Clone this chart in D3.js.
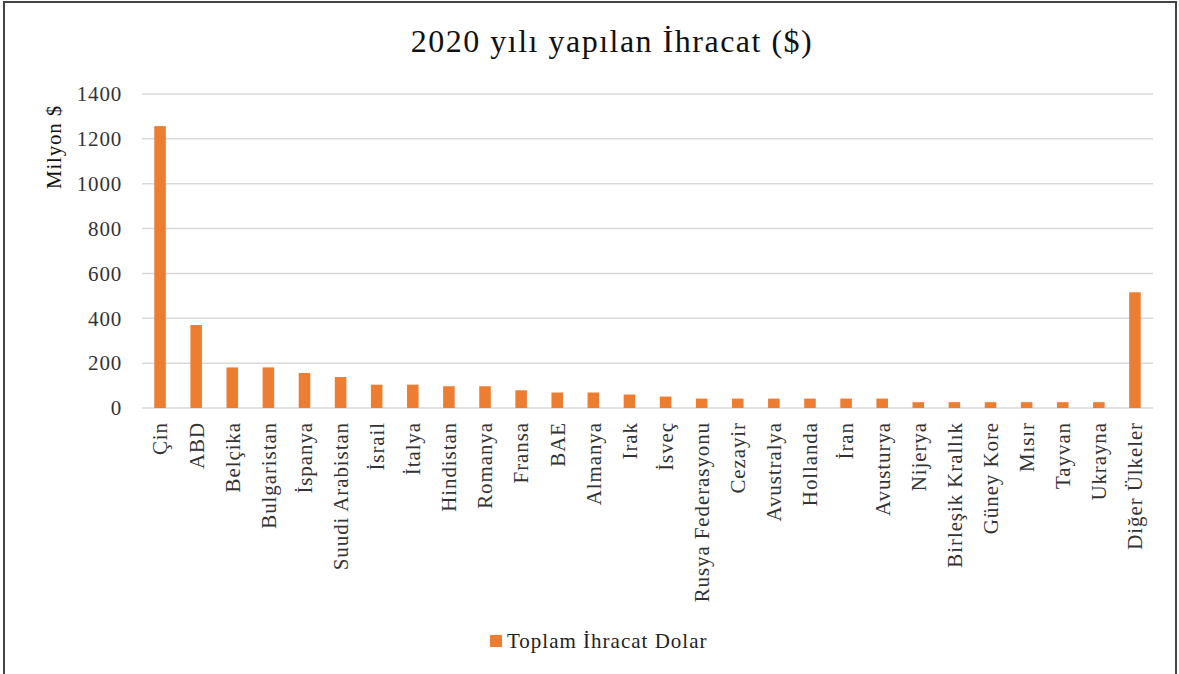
<!DOCTYPE html>
<html>
<head>
<meta charset="utf-8">
<script src="https://cdn.jsdelivr.net/npm/d3@7"></script>
<style>
  html, body { margin: 0; padding: 0; background: #fff; }
</style>
</head>
<body>
<div id="chart"></div>
<script>
// Countries and export values (million $)
const countries = [
    "Çin", "ABD", "Belçika", "Bulgaristan", "İspanya", "Suudi Arabistan", "İsrail",
    "İtalya", "Hindistan", "Romanya", "Fransa", "BAE", "Almanya", "Irak", "İsveç",
    "Rusya Federasyonu", "Cezayir", "Avustralya", "Hollanda", "İran", "Avusturya",
    "Nijerya", "Birleşik Krallık", "Güney Kore", "Mısır", "Tayvan", "Ukrayna", "Diğer Ülkeler"
];
const exports2020 = [
    1257, 370, 181, 181, 156, 138, 104,
    104, 97, 97, 79, 69, 69, 60, 51,
    42, 42, 42, 42, 42, 42,
    26, 26, 26, 26, 26, 26, 516
];
const yTicks = [0, 200, 400, 600, 800, 1000, 1200, 1400];

const title = "2020 yılı yapılan İhracat ($)";
const yTitle = "Milyon $";
const seriesName = "Toplam İhracat Dolar";

const data = countries.map((c, i) => ({ country: c, value: exports2020[i] }));

const width = 1179, height = 674;
const margin = { top: 94, right: 26, bottom: 266, left: 142 };
const serif = "'Liberation Serif', Tinos, 'Times New Roman', Times, serif";

const svg = d3.select("#chart")
    .append("svg")
    .attr("width", width)
    .attr("height", height)
    .attr("font-family", serif)
    .style("font-family", serif);

// outer frame
svg.append("rect")
    .attr("x", 4).attr("y", 2)
    .attr("width", width - 7).attr("height", height + 10)
    .attr("fill", "#fff")
    .attr("stroke", "#444")
    .attr("stroke-width", 2);

const x = d3.scaleBand()
    .domain(countries)
    .range([margin.left, width - margin.right])
    .paddingInner(0.68)
    .paddingOuter(0.34);

const y = d3.scaleLinear()
    .domain([0, 1400])
    .range([height - margin.bottom, margin.top]);

// gridlines
svg.append("g")
    .selectAll("line")
    .data(yTicks)
    .enter()
    .append("line")
    .attr("x1", margin.left)
    .attr("x2", width - margin.right)
    .attr("y1", d => y(d))
    .attr("y2", d => y(d))
    .attr("stroke", "#d9d9d9")
    .attr("stroke-width", 1.5);

// y tick labels
svg.append("g")
    .selectAll("text")
    .data(yTicks)
    .enter()
    .append("text")
    .attr("x", 122)
    .attr("y", d => y(d))
    .attr("dy", "0.35em")
    .attr("text-anchor", "end")
    .attr("fill", "#333")
    .style("font-size", "21px")
    .style("letter-spacing", "0.8px")
    .text(d => d);

// bars
svg.append("g")
    .selectAll("rect")
    .data(data)
    .enter()
    .append("rect")
    .attr("x", d => x(d.country))
    .attr("y", d => y(d.value))
    .attr("width", x.bandwidth())
    .attr("height", d => y(0) - y(d.value))
    .attr("fill", "#ed7d31");

// x labels, rotated
svg.append("g")
    .selectAll("text")
    .data(data)
    .enter()
    .append("text")
    .attr("transform", d => `translate(${x(d.country) + x.bandwidth() / 2},422) rotate(-90)`)
    .attr("dy", "0.35em")
    .attr("text-anchor", "end")
    .attr("fill", "#333")
    .style("font-size", "21px")
    .style("letter-spacing", "0.9px")
    .text(d => d.country);

// title
svg.append("text")
    .attr("x", 612)
    .attr("y", 52)
    .attr("text-anchor", "middle")
    .attr("fill", "#111")
    .style("font-size", "32px")
    .style("letter-spacing", "1.5px")
    .text(title);

// y axis title
svg.append("text")
    .attr("transform", "translate(61,147) rotate(-90)")
    .attr("text-anchor", "middle")
    .attr("fill", "#111")
    .style("font-size", "21px")
    .style("letter-spacing", "0.8px")
    .text(yTitle);

// legend
const legend = svg.append("g").attr("transform", "translate(490,635)");
legend.append("rect")
    .attr("width", 12).attr("height", 12)
    .attr("fill", "#ed7d31");
legend.append("text")
    .attr("x", 17)
    .attr("y", 13)
    .attr("fill", "#222")
    .style("font-size", "21px")
    .style("letter-spacing", "1px")
    .text(seriesName);
</script>
</body>
</html>
